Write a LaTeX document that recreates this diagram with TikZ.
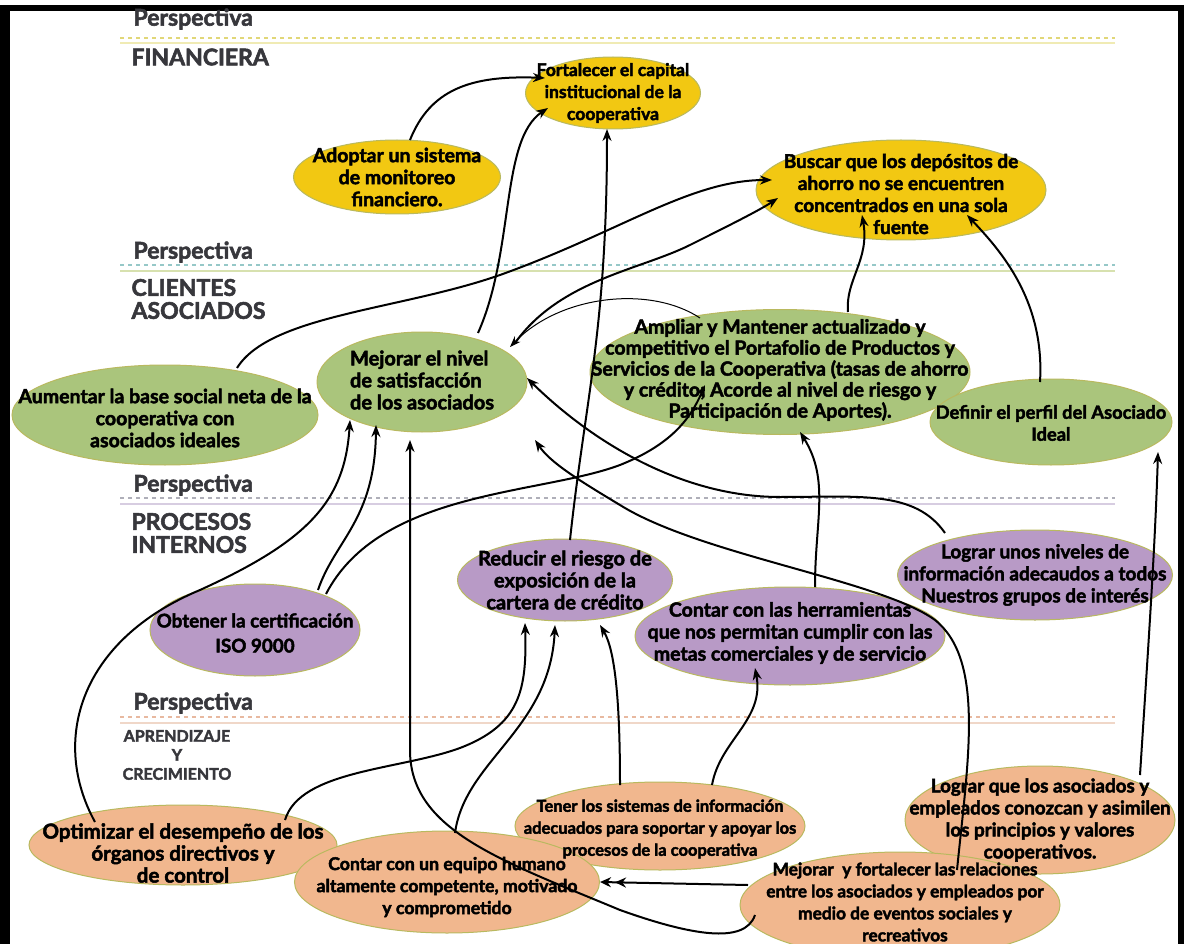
\documentclass[tikz,border=0pt]{standalone}
\usepackage{fontspec}
\setmainfont{Lato}[BoldFeatures={FakeBold=2.4}]
\usetikzlibrary{shapes.geometric,arrows.meta,calc}
\definecolor{cyel}{RGB}{242,200,18}
\definecolor{cgrn}{RGB}{170,197,124}
\definecolor{cpur}{RGB}{184,154,198}
\definecolor{csal}{RGB}{241,183,142}
\definecolor{rim}{RGB}{185,185,95}
\definecolor{hdr}{RGB}{55,55,60}
\definecolor{dash1}{RGB}{225,215,120}
\definecolor{sol1}{RGB}{240,235,180}
\definecolor{dash2}{RGB}{150,200,200}
\definecolor{sol2}{RGB}{215,225,175}
\definecolor{dash3}{RGB}{175,175,185}
\definecolor{sol3}{RGB}{215,205,225}
\definecolor{dash4}{RGB}{232,185,160}
\definecolor{sol4}{RGB}{240,215,200}
\begin{document}
\begin{tikzpicture}[x=1pt,y=-1pt,
  obj/.style={ellipse, inner sep=0pt, draw=rim, line width=1pt},
  yel/.style={obj, fill=cyel},
  grn/.style={obj, fill=cgrn},
  pur/.style={obj, fill=cpur},
  sal/.style={obj, fill=csal},
  txt/.style={align=center, inner sep=0pt, text=black,
    font=\bfseries\fontsize{#1}{22}\selectfont},
  persp/.style={anchor=west, text=hdr, font=\bfseries\fontsize{23}{23}\selectfont},
  sect/.style={anchor=west, text=hdr, align=left, font=\bfseries\fontsize{23}{23}\selectfont},
  arr/.style={line width=2pt, -{Stealth[length=12pt,width=9pt]}},
  thinarr/.style={line width=1pt, -{Stealth[length=11pt,width=8pt]}}
]
\useasboundingbox (0,0) rectangle (1184,944);
\fill[white] (0,0) rectangle (1184,944);
% frame
\fill[black] (0,5) rectangle (10,944);
\fill[black] (0,5) rectangle (1184,11);
\fill[black] (1178,5) rectangle (1184,944);

% perspective bands
\draw[dash1, line width=1.2pt, dash pattern=on 4pt off 4pt] (120,38) -- (1115,38);
\draw[sol1, line width=1.5pt] (120,43) -- (1115,43);
\draw[dash2, line width=1.2pt, dash pattern=on 4pt off 4pt] (120,265) -- (1115,265);
\draw[sol2, line width=1.5pt] (120,271) -- (1115,271);
\draw[dash3, line width=1.2pt, dash pattern=on 4pt off 4pt] (120,498) -- (1115,498);
\draw[sol3, line width=1.5pt] (120,504) -- (1115,504);
\draw[dash4, line width=1.2pt, dash pattern=on 4pt off 4pt] (120,717) -- (1115,717);
\draw[sol4, line width=1.5pt] (120,723) -- (1115,723);

\node[persp] (p1) at (130,19) {Perspectiva};
\node[sect] (s1) at (128,57) {FINANCIERA};
\node[persp] (p2) at (130,252) {Perspectiva};
\node[sect] (s2) at (128,299) {CLIENTES\\ASOCIADOS};
\node[persp] (p3) at (130,485) {Perspectiva};
\node[sect] (s3) at (128,533) {PROCESOS\\INTERNOS};
\node[persp] (p4) at (130,703) {Perspectiva};
\node[anchor=center, text=hdr, align=center, font=\bfseries\fontsize{16}{19}\selectfont] (s4) at (177,755) {APRENDIZAJE\\Y\\CRECIMIENTO};

% objective ellipses
\node[yel, minimum width=175, minimum height=72] (fort) at (613,93) {};
\node[yel, minimum width=207, minimum height=74] (adopt) at (397,177) {};
\node[yel, minimum width=290, minimum height=100] (busc) at (901,190) {};
\node[grn, minimum width=306, minimum height=100] (aum) at (165,415) {};
\node[grn, minimum width=210, minimum height=100] (mej) at (422,382) {};
\node[grn, minimum width=380, minimum height=125] (amp) at (780,372) {};
\node[grn, minimum width=242, minimum height=86] (def) at (1051,422) {};
\node[pur, minimum width=210, minimum height=92] (iso) at (255,630) {};
\node[pur, minimum width=215, minimum height=82] (red) at (565,580) {};
\node[pur, minimum width=310, minimum height=98] (herr) at (790,636) {};
\node[pur, minimum width=275, minimum height=90] (lnv) at (1035,575) {};
\node[sal, minimum width=290, minimum height=88] (ten) at (660,826) {};
\node[sal, minimum width=270, minimum height=108] (lqa) at (1040,820) {};
\node[sal, minimum width=308, minimum height=80] (opt) at (183,845) {};
\node[sal, minimum width=305, minimum height=102] (hum) at (447,882) {};
\node[sal, minimum width=320, minimum height=106] (mf) at (900,905) {};

% texts
\node[txt=17.5] (fortT) at (613,93) {Fortalecer el capital\\institucional de la\\cooperativa};
\node[txt=19.5] (adoptT) at (397,177) {Adoptar un sistema\\de monitoreo\\financiero.};
\node[txt=19] (buscT) at (901,194) {Buscar que los depósitos de\\ahorro no se encuentren\\concentrados en una sola\\fuente};
\node[txt=19.5] (aumT) at (165,418) {Aumentar la base social neta de la\\cooperativa con\\asociados ideales};
\node[txt=20, align=left] (mejT) at (422,380) {Mejorar el nivel\\de satisfacción\\de los asociados};
\node[txt=19.5, font=\bfseries\fontsize{19.5}{21}\selectfont] (ampT) at (780,370) {Ampliar y Mantener actualizado y\\competitivo el Portafolio de Productos y\\Servicios de la Cooperativa (tasas de ahorro\\y crédito; Acorde al nivel de riesgo y\\Participación de Aportes).};
\node[txt=18.3] (defT) at (1051,423) {Definir el perfil del Asociado\\Ideal};
\node[txt=18.8, font=\bfseries\fontsize{18.8}{25}\selectfont] (isoT) at (255,633) {Obtener la certificación\\ISO 9000};
\node[txt=20] (redT) at (565,580) {Reducir el riesgo de\\exposición de la\\cartera de crédito};
\node[txt=19.5] (herrT) at (790,633) {Contar con las herramientas\\que nos permitan cumplir con las\\metas comerciales y de servicio};
\node[txt=19] (lnvT) at (1035,575) {Lograr unos niveles de\\información adecaudos a todos\\Nuestros grupos de interés};
\node[txt=16.5] (tenT) at (660,829) {Tener los sistemas de información\\adecuados para soportar y apoyar los\\procesos de la cooperativa};
\node[txt=18.8] (lqaT) at (1040,820) {Lograr que los asociados y\\empleados conozcan y asimilen\\los principios y valores\\cooperativos.};
\node[txt=20.5] (optT) at (183,853) {Optimizar el desempeño de los\\órganos directivos y\\de control};
\node[txt=17.7] (humT) at (447,887) {Contar con un equipo humano\\altamente competente, motivado\\y comprometido};
\node[txt=17.3] (mfT) at (905,902) {Mejorar\ \ y fortalecer las relaciones\\entre los asociados y empleados por\\medio de eventos sociales y\\recreativos};

% connectors
\draw[arr] ($(adopt)+(13,-37)$) .. controls (430,90) and (470,75) .. ($(fort)+(-68,-15)$);
\draw[arr] ($(mej)+(56,-49)$) .. controls (515,250) and (500,140) .. ($(fort)+(-65,15)$);
\draw[arr] ($(red)+(5,-40)$) .. controls (585,400) and (607,330) .. ($(fort)+(-6,36)$);
\draw[arr] ($(aum)+(72,-47)$) .. controls (270,315) and (400,310) .. (500,275) .. controls (620,232) and (690,180) .. ($(busc)+(-129,-10)$);
\draw[arr] ($(mej)+(93,-39)$) .. controls (560,280) and (640,270) .. (690,245) .. controls (730,225) and (760,210) .. ($(busc)+(-123,8)$);
\draw[arr] ($(amp)+(68,-60)$) .. controls (845,280) and (870,260) .. ($(busc)+(-39,25)$);
\draw[arr] ($(def)+(-11,-40)$) .. controls (1045,300) and (1000,250) .. ($(busc)+(66,25)$);
\draw[thinarr] ($(amp)+(-80,-54)$) .. controls (650,285) and (560,295) .. ($(mej)+(88,-35)$);
\draw[arr] ($(opt)+(-88,-23)$) .. controls (50,740) and (80,640) .. (200,590) .. controls (310,540) and (345,500) .. ($(mej)+(-72,38)$);
\draw[arr] ($(iso)+(63,-40)$) .. controls (335,540) and (375,520) .. ($(mej)+(-46,43)$);
\draw[arr] ($(iso)+(71,-36)$) .. controls (380,490) and (540,495) .. (620,465) .. controls (670,445) and (690,420) .. ($(amp)+(-75,13)$);
\draw[arr] ($(mf)+(-145,10)$) .. controls (745,945) and (690,935) .. (620,910) .. controls (500,860) and (410,830) .. (410,750) -- ($(mej)+(-12,58)$);
\draw[arr] ($(lnv)+(-90,-42)$) .. controls (915,490) and (860,497) .. (780,497) .. controls (680,497) and (590,440) .. ($(mej)+(105,-4)$);
\draw[arr] ($(mf)+(57,-35)$) .. controls (968,760) and (985,660) .. (935,620) .. controls (880,580) and (700,555) .. (620,505) .. controls (575,478) and (550,462) .. ($(mej)+(113,58)$);
\draw[arr] ($(lqa)+(100,-45)$) .. controls (1148,650) and (1155,550) .. ($(def)+(107,30)$);
\draw[line width=2pt, -{Stealth[length=11pt,width=10pt,sep=4pt]Stealth[length=11pt,width=10pt]}] ($(mf)+(-152,-20)$) -- ($(hum)+(153,0)$);
\draw[arr] ($(hum)+(8,-49)$) .. controls (465,760) and (550,730) .. ($(red)+(-10,45)$);
\draw[arr] ($(opt)+(102,-25)$) .. controls (300,770) and (400,770) .. (460,748) .. controls (520,725) and (527,690) .. ($(red)+(-40,43)$);
\draw[arr] ($(ten)+(-40,-41)$) .. controls (620,700) and (615,650) .. ($(red)+(35,45)$);
\draw[arr] ($(ten)+(52,-41)$) .. controls (720,740) and (765,720) .. ($(herr)+(-35,32)$);
\draw[arr] ($(herr)+(25,-49)$) .. controls (815,520) and (830,480) .. ($(amp)+(20,60)$);
\end{tikzpicture}
\end{document}
